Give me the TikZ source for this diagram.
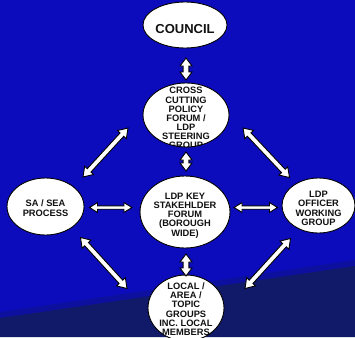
\documentclass[tikz,border=0pt]{standalone}
\usepackage{fontspec}
\setmainfont{Liberation Sans}
\usetikzlibrary{shapes.geometric,calc}
\definecolor{bgblue}{RGB}{12,12,188}
\definecolor{bgdark}{RGB}{16,26,104}
\definecolor{txtc}{RGB}{17,17,17}
\newcommand\etext[2]{\makebox[0pt]{\smash{\raisebox{#1}{\begin{tabular}{@{}c@{}}#2\end{tabular}}}}}
\newcommand\dblarr[5]{%
 \draw[arr] (#1)
 -- ($(#1)!#5!(#2)!#4!90:(#2)$)
 -- ($(#1)!#5!(#2)!#3!90:(#2)$)
 -- ($(#2)!#5!(#1)!#3!-90:(#1)$)
 -- ($(#2)!#5!(#1)!#4!-90:(#1)$)
 -- (#2)
 -- ($(#2)!#5!(#1)!#4!90:(#1)$)
 -- ($(#2)!#5!(#1)!#3!90:(#1)$)
 -- ($(#1)!#5!(#2)!#3!-90:(#2)$)
 -- ($(#1)!#5!(#2)!#4!-90:(#2)$)
 -- cycle;}
\newcommand\efont{\color{txtc}\bfseries\fontsize{9.3}{8.7}\selectfont}
\tikzset{
  ell/.style={ellipse, draw=black, line width=0.9pt, fill=white, inner sep=0pt,
    text=txtc, font=\efont},
  cliptext/.style={path picture={\pgftext[at={\pgfpointanchor{path picture bounding box}{center}}]{\efont #1}}},
  arr/.style={draw=black, fill=white, line width=0.9pt, line join=miter},
}
\begin{document}
\begin{tikzpicture}[x=1pt,y=-1pt]
\useasboundingbox (0,0) rectangle (355,337);
% background
\fill[bgblue] (0,0) rectangle (355,337);
\fill[bgdark, opacity=0.35] (0,312) -- (355,260) -- (355,266) -- (0,318) -- cycle;
\fill[bgdark] (0,318) -- (355,266) -- (355,337) -- (0,337) -- cycle;
% nodes
\node[ell, minimum width=84pt, minimum height=46pt, font=\bfseries\fontsize{13}{13}\selectfont] (council) at (185,25) {\etext{-9.3pt}{COUNCIL}};
\node[ell, minimum width=86pt, minimum height=64pt,
  cliptext={\etext{-6.6pt}{CROSS\\CUTTING\\POLICY\\FORUM /\\LDP\\STEERING\\GROUP}}] (cross) at (186,115) {};
\node[ell, minimum width=90pt, minimum height=72pt] (ldp) at (185,212) {\etext{-5.9pt}{LDP KEY\\STAKEHLDER\\FORUM\\(BOROUGH\\WIDE)}};
\node[ell, minimum width=77pt, minimum height=57pt] (sa) at (45.5,206.5) {\etext{-5.2pt}{SA / SEA\\PROCESS}};
\node[ell, minimum width=73pt, minimum height=55pt] (off) at (318.5,205.5) {\etext{-6.4pt}{LDP\\OFFICER\\WORKING\\GROUP}};
\node[ell, minimum width=76pt, minimum height=66pt,
  cliptext={\etext{-4.6pt}{LOCAL /\\AREA /\\TOPIC\\GROUPS\\INC. LOCAL\\MEMBERS}}] (local) at (186,308) {};
% arrow end points
\coordinate (a1) at ($(council)+(1,33)$);
\coordinate (a2) at ($(cross)+(0,-35)$);
\coordinate (b1) at ($(cross)+(0,37)$);
\coordinate (b2) at ($(ldp)+(1,-41)$);
\coordinate (c1) at ($(ldp)+(1,42)$);
\coordinate (c2) at ($(local)+(0,-32)$);
\coordinate (d1) at ($(sa)+(44,1)$);
\coordinate (d2) at ($(ldp)+(-53,-4.5)$);
\coordinate (e1) at ($(ldp)+(49,-4.5)$);
\coordinate (e2) at ($(off)+(-41,2)$);
\coordinate (f1) at ($(sa)+(37.5,-29.5)$);
\coordinate (f2) at ($(cross)+(-58,13)$);
\coordinate (g1) at ($(cross)+(57,13)$);
\coordinate (g2) at ($(off)+(-29,-28)$);
\coordinate (h1) at ($(sa)+(35,31)$);
\coordinate (h2) at ($(local)+(-59,-19.5)$);
\coordinate (i1) at ($(off)+(-28,33)$);
\coordinate (i2) at ($(local)+(59,-19.5)$);
% arrows
\dblarr{a1}{a2}{2.85pt}{6pt}{8pt}
\dblarr{b1}{b2}{2.85pt}{6pt}{8pt}
\dblarr{c1}{c2}{2.85pt}{6pt}{8pt}
\dblarr{d1}{d2}{1.7pt}{4.9pt}{8pt}
\dblarr{e1}{e2}{1.7pt}{4.9pt}{8pt}
\dblarr{f1}{f2}{2.5pt}{6pt}{9pt}
\dblarr{g1}{g2}{2.5pt}{6pt}{9pt}
\dblarr{h1}{h2}{2.5pt}{6pt}{9pt}
\dblarr{i1}{i2}{2.5pt}{6pt}{9pt}
\end{tikzpicture}
\end{document}
